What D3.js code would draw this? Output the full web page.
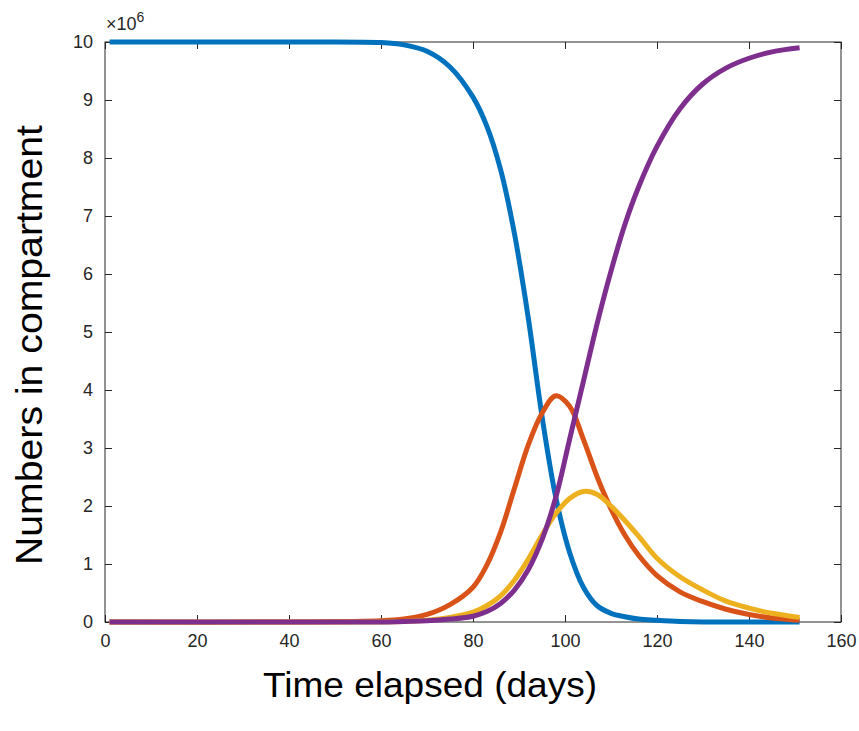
<!DOCTYPE html><html><head><script src="https://cdn.jsdelivr.net/npm/d3@7"></script>
<style>body{margin:0;background:#fff}text{font-family:"Liberation Sans",Arial,sans-serif}</style></head><body>
<svg id="c" width="859" height="731"></svg>
<script>
const days=[1,40,60,65,70,75,80,83,86,89,92,95,98,101,104,107,110,113,116,120,125,130,135,140,145,151];
const S=[10,10,9.99,9.95,9.84,9.57,9.05,8.55,7.8,6.7,5.25,3.55,2.15,1.2,0.6,0.28,0.15,0.09,0.05,0.03,0.01,0,0,0,0,0];
const I=[0,0,0.02,0.05,0.13,0.3,0.6,0.98,1.55,2.3,3.05,3.6,3.9,3.72,3.15,2.5,1.95,1.5,1.15,0.8,0.52,0.35,0.22,0.13,0.07,0.03];
const Q=[0,0,0,0.01,0.03,0.08,0.17,0.28,0.45,0.72,1.08,1.5,1.87,2.13,2.25,2.2,2.0,1.75,1.48,1.1,0.78,0.55,0.36,0.24,0.15,0.08];
const R=[0,0,0,0.01,0.02,0.05,0.1,0.18,0.32,0.55,0.9,1.42,2.15,3.15,4.15,5.15,6.05,6.85,7.5,8.2,8.85,9.28,9.55,9.72,9.83,9.9];
const series=[[S,"#0072BD"],[I,"#D95319"],[Q,"#EDB120"],[R,"#7E2F8E"]];
const xTicks=[0,20,40,60,80,100,120,140,160], yTicks=[0,1,2,3,4,5,6,7,8,9,10];
const svg=d3.select("#c");
const x=d3.scaleLinear().domain([0,160]).range([105,841]);
const y=d3.scaleLinear().domain([0,10]).range([622,42]);
svg.append("rect").attr("x",105).attr("y",42).attr("width",736).attr("height",580).attr("fill","none").attr("stroke","#262626").attr("stroke-width",1);
svg.append("g").attr("transform","translate(0,622)").call(d3.axisBottom(x).tickValues(xTicks).tickSize(-7).tickPadding(12));
svg.append("g").attr("transform","translate(105,0)").call(d3.axisLeft(y).tickValues(yTicks).tickSize(-7).tickPadding(12));
svg.append("g").attr("transform","translate(0,42)").call(d3.axisTop(x).tickValues(xTicks).tickSize(-7).tickFormat(""));
svg.append("g").attr("transform","translate(841,0)").call(d3.axisRight(y).tickValues(yTicks).tickSize(-7).tickFormat(""));
svg.selectAll(".domain").remove();
svg.selectAll(".tick line").attr("stroke","#262626");
svg.selectAll(".tick text").attr("font-size",18).attr("fill","#262626").style("font-family","Liberation Sans, Arial");
const line=d3.line().x((d,i)=>x(days[i])).y(d=>y(Math.max(0,d))).curve(d3.curveCatmullRom.alpha(0.5));
series.forEach(([v,c])=>svg.append("path").attr("d",line(v)).attr("fill","none").attr("stroke",c).attr("stroke-width",5));
svg.append("text").attr("x",106).attr("y",30).attr("font-size",18).attr("fill","#262626").html("×10<tspan dy='-8' font-size='14'>6</tspan>");
svg.append("text").attr("x",430).attr("y",697).attr("text-anchor","middle").attr("font-size",35).attr("textLength",334).attr("lengthAdjust","spacingAndGlyphs").attr("fill","#000").text("Time elapsed (days)");
svg.append("text").attr("transform","translate(42,345) rotate(-90)").attr("text-anchor","middle").attr("font-size",36).attr("textLength",440).attr("lengthAdjust","spacingAndGlyphs").attr("fill","#000").text("Numbers in compartment");
</script></body></html>
